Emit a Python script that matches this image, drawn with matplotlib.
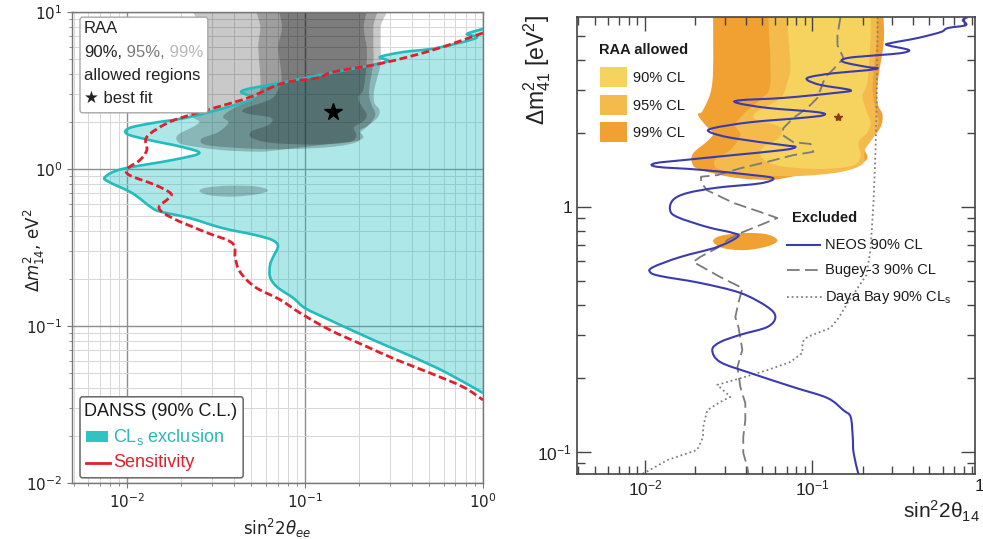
import numpy as np
import matplotlib
matplotlib.use('Agg')
import matplotlib.pyplot as plt
from matplotlib.patches import FancyBboxPatch, Rectangle, PathPatch
from matplotlib.lines import Line2D
from matplotlib.path import Path
from matplotlib.ticker import NullFormatter
import matplotlib.transforms as mtransforms

plt.rcParams['font.family'] = ['Liberation Sans', 'DejaVu Sans']
plt.rcParams['mathtext.fontset'] = 'custom'
plt.rcParams['mathtext.rm'] = 'Liberation Sans'
plt.rcParams['mathtext.it'] = 'Liberation Sans:italic'
plt.rcParams['mathtext.bf'] = 'Liberation Sans:bold'

# ---------------- data ----------------
# DANSS CLs exclusion contour (sin^2 2theta, dm^2)
danss_s2t = [1.0, 0.813, 0.914, 0.552, 0.356, 0.264, 0.292, 0.223, 0.121, 0.0724,
             0.0504, 0.0437, 0.0511, 0.0405, 0.0223, 0.0138, 0.01026, 0.0100, 0.0133, 0.0204,
             0.0254, 0.0179, 0.00937, 0.00752, 0.00792, 0.01067, 0.0138, 0.0157, 0.0223, 0.0342,
             0.0524, 0.0653, 0.0705, 0.0661, 0.0636, 0.0636, 0.0697, 0.0857, 0.100, 0.138,
             0.172, 0.264, 0.404, 0.628, 1.0]
danss_dm2 = [7.80, 7.24, 6.83, 5.90, 5.56, 5.17, 4.88, 4.53, 3.97, 3.53,
             3.28, 3.09, 2.83, 2.56, 2.14, 1.96, 1.82, 1.67, 1.53, 1.38,
             1.26, 1.14, 1.0, 0.889, 0.826, 0.703, 0.565, 0.532, 0.488, 0.421,
             0.380, 0.353, 0.323, 0.275, 0.245, 0.205, 0.177, 0.151, 0.130, 0.109,
             0.0971, 0.0780, 0.0635, 0.0502, 0.0374]

# DANSS sensitivity
sens_s2t = [1.0, 0.524, 0.274, 0.144, 0.117, 0.0752, 0.0491, 0.0321, 0.0226, 0.0168,
            0.0129, 0.0129, 0.0118, 0.0101, 0.01026, 0.0144, 0.0175, 0.0172, 0.0151, 0.0179,
            0.0274, 0.0389, 0.0405, 0.0431, 0.0524, 0.0724, 0.0938, 0.138, 0.212, 0.329,
            0.504, 0.773, 1.0]
sens_dm2 = [7.35, 5.73, 4.73, 4.15, 3.80, 3.53, 2.87, 2.48, 2.21, 1.96,
            1.60, 1.32, 1.14, 1.01, 0.916, 0.791, 0.703, 0.654, 0.565, 0.488,
            0.397, 0.338, 0.271, 0.221, 0.177, 0.147, 0.121, 0.0943, 0.0757, 0.0607,
            0.0502, 0.0409, 0.0338]

# RAA allowed regions (closed contours)
raa99_s2t = [0.0255, 0.0255, 0.0255, 0.0252, 0.0222, 0.0207, 0.0235, 0.0255, 0.0238, 0.0194,
             0.0191, 0.0213, 0.0337, 0.0538, 0.0670, 0.134, 0.194, 0.213, 0.202, 0.222,
             0.255, 0.262, 0.245, 0.245, 0.266, 0.266, 0.266, 0.266]
raa99_dm2 = [16, 8.0, 5.97, 3.21, 2.49, 2.38, 2.12, 2.00, 1.87, 1.66,
             1.51, 1.42, 1.32, 1.29, 1.31, 1.44, 1.51, 1.60, 1.76, 1.87,
             2.12, 2.38, 2.65, 3.21, 4.67, 5.97, 8.0, 16]
raa95_s2t = [0.056, 0.056, 0.0546, 0.0561, 0.0502, 0.0397, 0.0346, 0.0371, 0.0323, 0.0262,
             0.0281, 0.0489, 0.0847, 0.147, 0.199, 0.205, 0.229, 0.248, 0.235, 0.229,
             0.242, 0.242, 0.242, 0.242]
raa95_dm2 = [16, 8.0, 5.97, 3.24, 2.79, 2.44, 2.16, 1.97, 1.71, 1.56,
             1.42, 1.35, 1.34, 1.39, 1.50, 1.71, 1.91, 2.22, 2.61, 3.15,
             4.81, 5.97, 8.0, 16]
raa90_s2t = [0.0741, 0.0741, 0.0708, 0.0738, 0.0708, 0.0643, 0.0456, 0.0469, 0.0643, 0.0625,
             0.0502, 0.0502, 0.0643, 0.112, 0.176, 0.194, 0.188, 0.213, 0.222, 0.207,
             0.199, 0.213, 0.222, 0.222, 0.214, 0.214]
raa90_dm2 = [16, 8.0, 5.97, 3.80, 3.24, 2.79, 2.42, 2.26, 2.12, 1.91,
             1.74, 1.58, 1.47, 1.43, 1.48, 1.63, 1.84, 2.02, 2.22, 2.54,
             2.86, 3.24, 4.81, 5.97, 8.0, 16]
island_s2t = [0.0255, 0.0281, 0.0371, 0.0524, 0.0617, 0.0546, 0.0397, 0.0289]
island_dm2 = [0.726, 0.762, 0.783, 0.776, 0.733, 0.693, 0.667, 0.681]
best_fit_s2t = 0.143
best_fit_dm2 = 2.3

# NEOS 90% CL
neos_s2t = [0.847, 0.791, 0.824, 0.643, 0.583, 0.425, 0.293, 0.281, 0.376, 0.337,
            0.245, 0.162, 0.153, 0.213, 0.245, 0.213, 0.134, 0.0973, 0.0933, 0.112,
            0.169, 0.134, 0.0670, 0.0371, 0.0356, 0.0538, 0.107, 0.116, 0.0848, 0.0426,
            0.0255, 0.0245, 0.0337, 0.0670, 0.0791, 0.0670, 0.0337, 0.0178, 0.0115, 0.0118,
            0.0213, 0.0444, 0.0583, 0.0489, 0.0270, 0.0178, 0.0147, 0.0141, 0.0156, 0.0235,
            0.0337, 0.0356, 0.0270, 0.0162, 0.0112, 0.0107, 0.0123, 0.0213, 0.0371, 0.0538,
            0.0600, 0.0538, 0.0371, 0.0281, 0.0252, 0.0281, 0.0426, 0.0769, 0.123, 0.153,
            0.169, 0.174, 0.176, 0.188]
neos_dm2 = [5.97, 5.80, 5.53, 5.38, 5.18, 4.90, 4.67, 4.58, 4.38, 4.25,
            4.17, 4.06, 3.91, 3.73, 3.69, 3.62, 3.52, 3.40, 3.30, 3.15,
            3.00, 2.92, 2.79, 2.73, 2.66, 2.54, 2.44, 2.37, 2.31, 2.22,
            2.10, 2.02, 1.91, 1.79, 1.76, 1.71, 1.63, 1.56, 1.51, 1.46,
            1.42, 1.35, 1.31, 1.25, 1.20, 1.14, 1.07, 0.972, 0.910, 0.829,
            0.783, 0.755, 0.687, 0.625, 0.569, 0.543, 0.523, 0.490, 0.446, 0.391,
            0.356, 0.324, 0.301, 0.281, 0.261, 0.233, 0.210, 0.184, 0.166, 0.148,
            0.139, 0.115, 0.0991, 0.0813]

# Bugey-3 90% CL
bugey_s2t = [0.147, 0.141, 0.141, 0.153, 0.141, 0.123, 0.116, 0.107, 0.0933, 0.0769,
             0.0670, 0.0661, 0.0769, 0.0973, 0.101, 0.0769, 0.0538, 0.0371, 0.0270, 0.0216,
             0.0216, 0.0235, 0.0337, 0.0489, 0.0617, 0.0489, 0.0371, 0.0310, 0.0270, 0.0213,
             0.0194, 0.0281, 0.0381, 0.0361, 0.0346, 0.0361, 0.0381, 0.0356, 0.0371, 0.0397,
             0.0397, 0.0386, 0.0386, 0.0408, 0.0414]
bugey_dm2 = [5.97, 5.04, 4.58, 4.06, 3.80, 3.46, 3.24, 2.79, 2.54, 2.31,
             2.10, 1.97, 1.84, 1.81, 1.68, 1.63, 1.53, 1.44, 1.35, 1.33,
             1.26, 1.17, 1.04, 0.954, 0.902, 0.845, 0.783, 0.733, 0.681, 0.625,
             0.597, 0.518, 0.467, 0.406, 0.356, 0.324, 0.261, 0.222, 0.184, 0.158,
             0.135, 0.115, 0.0991, 0.0869, 0.0813]

# Daya Bay 90% CLs
dyb_s2t = [0.245, 0.242, 0.238, 0.232, 0.222, 0.210, 0.162, 0.143, 0.128, 0.0933,
           0.0871, 0.0871, 0.0738, 0.0538, 0.0371, 0.0270, 0.0323, 0.0281, 0.0235, 0.0222,
           0.0222, 0.0205, 0.0136, 0.0107, 0.00933]
dyb_dm2 = [5.97, 2.73, 1.71, 1.07, 0.667, 0.528, 0.406, 0.352, 0.321, 0.295,
           0.281, 0.254, 0.233, 0.216, 0.200, 0.188, 0.168, 0.160, 0.148, 0.126,
           0.115, 0.102, 0.0927, 0.0845, 0.0805]

left_xticks = [1e-2, 1e-1, 1e0]
left_xticklabels = ['$10^{-2}$', '$10^{-1}$', '$10^{0}$']
left_yticks = [1e-2, 1e-1, 1e0, 1e1]
left_yticklabels = ['$10^{-2}$', '$10^{-1}$', '$10^{0}$', '$10^{1}$']
right_xticks = [1e-2, 1e-1]
right_xticklabels = ['$10^{-2}$', '$10^{-1}$']
right_yticks = [1e-1, 1e0]
right_yticklabels = ['$10^{-1}$', '1']


def smooth_path(xs, ys, closed=False):
    """Smooth (Catmull-Rom as cubic Bezier) path through the traced points,
    built in log space so it looks smooth on log-log axes."""
    P = np.column_stack([np.log10(xs), np.log10(ys)])
    n = len(P)
    if closed:
        Q = np.vstack([P[-1], P, P[0], P[1]])
        nseg = n
    else:
        Q = np.vstack([P[0], P, P[-1]])
        nseg = n - 1
    verts = [Q[1]]
    codes = [Path.MOVETO]
    for i in range(1, nseg + 1):
        p0, p1, p2, p3 = Q[i - 1], Q[i], Q[i + 1], Q[i + 2]
        verts += [p1 + (p2 - p0) / 6.0, p2 - (p3 - p1) / 6.0, p2]
        codes += [Path.CURVE4] * 3
    verts.append(Q[1])
    codes.append(Path.CLOSEPOLY if closed else Path.MOVETO)
    if not closed:
        verts = verts[:-1]
        codes = codes[:-1]
    return Path(10 ** np.array(verts), codes)


def filled_curve_path(xs, ys):
    p = smooth_path(xs, ys)
    verts = np.vstack([p.vertices, p.vertices[:1]])
    codes = list(p.codes) + [Path.CLOSEPOLY]
    return Path(verts, codes)


# ---------------- figure ----------------
fig = plt.figure(figsize=(9.83, 5.39), dpi=100)

# ===== left panel =====
ax1 = fig.add_axes([72/983, 1-483/539, 411/983, 471/539])
ax1.set_xscale('log'); ax1.set_yscale('log')
ax1.set_xlim(0.0049, 1.0); ax1.set_ylim(0.01, 10)
ax1.set_axisbelow(True)
ax1.grid(True, which='major', color='#8e8e8e', lw=1.0)
ax1.grid(True, which='minor', color='#d6d6d6', lw=0.7)

ax1.add_patch(PathPatch(filled_curve_path(danss_s2t, danss_dm2), fc='#18bdbd', alpha=0.35,
                        lw=0, ec='none', zorder=1))
for xs, ys in [(raa99_s2t, raa99_dm2), (raa95_s2t, raa95_dm2), (raa90_s2t, raa90_dm2),
               (island_s2t, island_dm2)]:
    ax1.add_patch(PathPatch(smooth_path(xs, ys, closed=True), fc='black', alpha=0.21,
                            lw=0, ec='none', zorder=2))
ax1.add_patch(PathPatch(smooth_path(danss_s2t, danss_dm2), fill=False, ec='#22bcbc',
                        lw=1.9, zorder=3))
ax1.add_patch(PathPatch(smooth_path(sens_s2t, sens_dm2), fill=False, ec='#e0202c',
                        lw=2.0, ls=(0, (2.8, 1.3)), zorder=3.5))
ax1.plot([best_fit_s2t], [best_fit_dm2], marker='*', color='black', ms=13, ls='none', zorder=4)

ax1.set_xticks(left_xticks, left_xticklabels)
ax1.set_yticks(left_yticks, left_yticklabels)
ax1.xaxis.set_minor_formatter(NullFormatter())
ax1.yaxis.set_minor_formatter(NullFormatter())
ax1.tick_params(which='both', color='#777777', labelsize=11, labelcolor='#222222')
ax1.tick_params(which='major', length=3.5)
ax1.tick_params(which='minor', length=2)
for lab in ax1.get_xticklabels() + ax1.get_yticklabels():
    lab.set_family('DejaVu Sans')
    lab.set_math_fontfamily('dejavusans')
for s in ax1.spines.values():
    s.set_color('#777777'); s.set_linewidth(1.0)

xl = ax1.set_xlabel(r'$\mathrm{sin}^2 2\theta_{ee}$', fontsize=12, color='#222222')
xl.set_math_fontfamily('dejavusans')
yl = ax1.set_ylabel(r'$\Delta m^2_{14}$, eV$^2$', fontsize=12, color='#222222')
yl.set_math_fontfamily('dejavusans'); yl.set_family('DejaVu Sans')
ax1.yaxis.set_label_coords(-0.061, 0.495)

# legend 1 (RAA)
ax1.add_patch(FancyBboxPatch((0.0195, 0.786), 0.311, 0.203,
                             boxstyle='round,pad=0,rounding_size=0.006',
                             transform=ax1.transAxes, fc='white', ec='#a8a8a8', lw=1.0, zorder=5))
kw = dict(transform=ax1.transAxes, fontsize=12, va='center', ha='left', zorder=6)
ax1.text(0.029, 0.966, 'RAA', color='#222222', **kw)
t90 = ax1.text(0.029, 0.915, '90%,', color='#222222', **kw)
t95 = ax1.annotate(' 95%,', xy=(1, 0), xycoords=t90, va='bottom', ha='left',
                   fontsize=12, color='#7a7a7a', zorder=6)
ax1.annotate(' 99%', xy=(1, 0), xycoords=t95, va='bottom', ha='left',
             fontsize=12, color='#b8b8b8', zorder=6)
ax1.text(0.029, 0.866, 'allowed regions', color='#222222', **kw)
ax1.text(0.029, 0.817, '★ best fit', color='#222222', **kw)

# legend 2 (DANSS)
ax1.add_patch(FancyBboxPatch((0.0195, 0.011), 0.397, 0.172,
                             boxstyle='round,pad=0,rounding_size=0.006',
                             transform=ax1.transAxes, fc='white', ec='#666666', lw=1.1, zorder=5))
kw2 = dict(transform=ax1.transAxes, fontsize=13, va='center', ha='left', zorder=6)
ax1.text(0.029, 0.151, 'DANSS (90% C.L.)', color='#1a1a1a', **kw2)
ax1.add_patch(Rectangle((0.034, 0.087), 0.0535, 0.0234, transform=ax1.transAxes,
                        fc='#2ec4c4', ec='none', zorder=6))
ax1.text(0.0998, 0.0977, r'CL$_\mathrm{s}$ exclusion', color='#2ab7b7', **kw2)
ax1.add_line(Line2D([0.034, 0.0925], [0.0425, 0.0425], transform=ax1.transAxes,
                    color='#e0202c', lw=2.0, zorder=6))
ax1.text(0.0998, 0.0425, 'Sensitivity', color='#e0202c', **kw2)

# ===== right panel =====
c90, c95, c99 = '#f6d25e', '#f4bb4c', '#f0a132'
ax2 = fig.add_axes([577/983, 1-474/539, 398/983, 457/539])
ax2.set_xscale('log'); ax2.set_yscale('log')
ax2.set_xlim(0.00392, 0.935); ax2.set_ylim(0.0813, 5.97)

for xs, ys, col, z in [(raa99_s2t, raa99_dm2, c99, 1.0), (raa95_s2t, raa95_dm2, c95, 1.1),
                       (raa90_s2t, raa90_dm2, c90, 1.2), (island_s2t, island_dm2, c99, 1.0)]:
    ax2.add_patch(PathPatch(smooth_path(xs, ys, closed=True), fc=col, ec='none', lw=0, zorder=z))
ax2.plot(dyb_s2t, dyb_dm2, color='#808080', lw=1.3, dashes=(1, 1.6), zorder=2)
ax2.plot(bugey_s2t, bugey_dm2, color='#7a7a7a', lw=1.3, dashes=(7, 3), zorder=2)
ax2.add_patch(PathPatch(smooth_path(neos_s2t, neos_dm2), fill=False, ec='#3b3bb0',
                        lw=1.5, zorder=3))
ax2.plot([best_fit_s2t], [2.33], marker='*', color='#8b3a12', ms=6, ls='none', zorder=4)

ax2.set_xticks(right_xticks, right_xticklabels)
ax2.set_yticks(right_yticks, right_yticklabels)
ax2.xaxis.set_minor_formatter(NullFormatter())
ax2.yaxis.set_minor_formatter(NullFormatter())
ax2.tick_params(which='both', direction='in', top=True, right=True, color='#444444',
                labelsize=12.5, labelcolor='#222222')
ax2.tick_params(which='major', length=10, width=1.0)
ax2.tick_params(which='minor', length=5.5, width=1.0)
for s in ax2.spines.values():
    s.set_color('#444444'); s.set_linewidth(1.2)
blend = mtransforms.blended_transform_factory(ax2.transData, ax2.transAxes)
ax2.annotate('1', xy=(1.0, 0), xycoords=blend, xytext=(0, -3.5), textcoords='offset points',
             ha='center', va='top', fontsize=12.5, color='#222222', annotation_clip=False)

ax2.set_ylabel('Δm$^2_{41}$ [eV$^2$]', fontsize=16.5, loc='top', color='#222222')
ax2.yaxis.set_label_coords(-0.060, 1.004)
ax2.set_xlabel('sin$^2$2θ$_{14}$', fontsize=15, loc='right', color='#222222')
ax2.xaxis.set_label_coords(1.013, -0.055)

# legend RAA allowed
kw3 = dict(transform=ax2.transAxes, fontsize=10.5, va='center', ha='left', zorder=6, color='#1a1a1a')
ax2.text(0.055, 0.928, 'RAA allowed', fontweight='bold', **kw3)
for yb, col, lab, yt in [(0.847, c90, '90% CL', 0.867), (0.7856, c95, '95% CL', 0.805),
                         (0.7265, c99, '99% CL', 0.746)]:
    ax2.add_patch(Rectangle((0.058, yb), 0.068, 0.0438, transform=ax2.transAxes,
                            fc=col, ec='none', zorder=6))
    ax2.text(0.141, yt, lab, **kw3)

ax2.text(0.540, 0.560, 'Excluded', fontweight='bold', **kw3)
ax2.add_line(Line2D([0.528, 0.611], [0.501, 0.501], transform=ax2.transAxes,
                    color='#3b3bb0', lw=1.5, zorder=6))
ax2.text(0.623, 0.501, 'NEOS 90% CL', **kw3)
ax2.add_line(Line2D([0.528, 0.611], [0.446, 0.446], transform=ax2.transAxes,
                    color='#7a7a7a', lw=1.3, dashes=(7, 3), zorder=6))
ax2.text(0.623, 0.446, 'Bugey-3 90% CL', **kw3)
ax2.add_line(Line2D([0.528, 0.616], [0.387, 0.387], transform=ax2.transAxes,
                    color='#808080', lw=1.3, dashes=(1, 1.6), zorder=6))
ax2.text(0.623, 0.387, r'Daya Bay 90% CL$_\mathrm{s}$', **kw3)

fig.savefig('out.png', dpi=100)
